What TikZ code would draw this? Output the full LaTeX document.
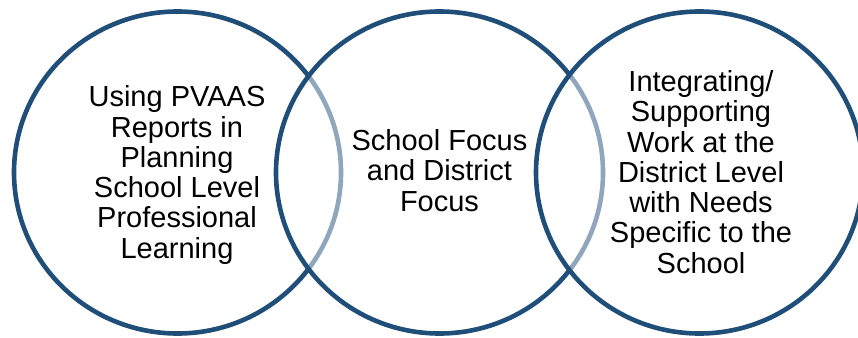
\documentclass[tikz,border=0pt]{standalone}
\usepackage{fontspec}
\setmainfont{Liberation Sans}
\usetikzlibrary{shapes.geometric}
\definecolor{ringblue}{RGB}{31,78,121}
\begin{document}
\begin{tikzpicture}[x=1pt,y=-1pt,
  ring/.style={ellipse, draw=ringblue, line width=4.6pt, fill=white,
    fill opacity=0.5, draw opacity=1, inner sep=0pt,
    minimum width=327pt, minimum height=322pt},
  label/.style={align=center, text=black, inner sep=0pt,
    font=\fontsize{29}{30.3}\selectfont}]
  \useasboundingbox (0,0) rectangle (858,337);
  % three overlapping rings; each later ring washes out the one beneath it
  \node[ring] (r1) at (177.5,172.5) {};
  \node[ring] (r2) at (439.5,172.5) {};
  \node[ring] (r3) at (699.5,172.5) {};
  % ring captions
  \node[label] (t1) at (177,175) {Using PVAAS\\Reports in\\Planning\\School Level\\Professional\\Learning};
  \node[label] (t2) at (439.5,170.5) {School Focus\\and District\\Focus};
  \node[label] (t3) at (701,172) {Integrating/\\Supporting\\Work at the\\District Level\\with Needs\\Specific to the\\School};
\end{tikzpicture}
\end{document}
